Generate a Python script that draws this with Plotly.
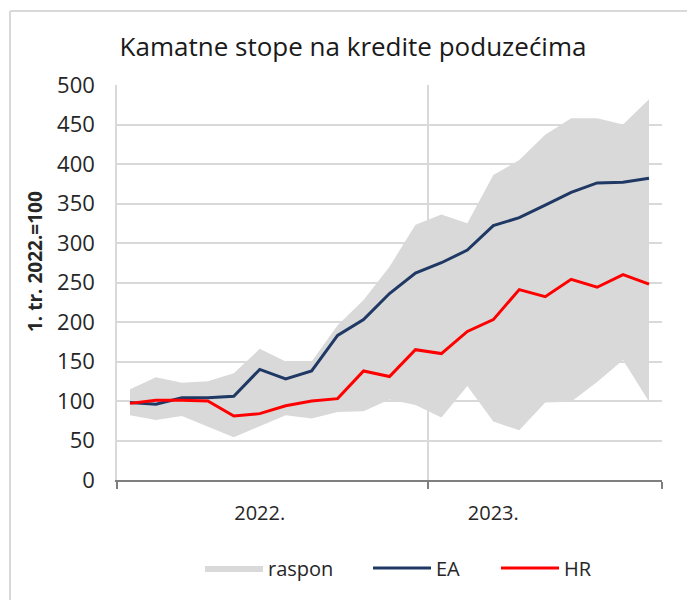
import plotly.graph_objects as go

months = ["01/2022", "02/2022", "03/2022", "04/2022", "05/2022", "06/2022",
          "07/2022", "08/2022", "09/2022", "10/2022", "11/2022", "12/2022",
          "01/2023", "02/2023", "03/2023", "04/2023", "05/2023", "06/2023",
          "07/2023", "08/2023", "09/2023"]
ea = [98, 96, 104, 104, 106, 140, 128, 138, 183, 203, 236, 262, 275, 291, 322, 332, 348, 364, 376, 377, 382]
hr = [97, 101, 101, 100, 81, 84, 94, 100, 103, 138, 131, 165, 160, 188, 203, 241, 232, 254, 244, 260, 248]
upper = [115, 130, 123, 125, 135, 166, 150, 150, 196, 228, 270, 323, 336, 325, 386, 405, 437, 458, 458, 450, 482]
lower = [82, 76, 81, 67, 54, 68, 82, 78, 86, 87, 102, 95, 79, 119, 74, 63, 98, 99, 124, 152, 99]
year_labels = ["2022.", "2023."]
year_label_pos = [5, 14]
year_bounds = [-0.5, 11.5, 20.5]

x = list(range(len(months)))
FONT = "Open Sans"

L, R, T, B = 117, 25, 85, 120
W, H = 687, 600
pw, ph = W - L - R, H - T - B


def px_x(p):
    return (p - L) / pw


def px_y(p):
    return (H - B - p) / ph


fig = go.Figure()
fig.add_trace(go.Scatter(x=x, y=lower, mode="lines", line=dict(width=0, color="#d9d9d9"),
                         showlegend=False, hoverinfo="skip", customdata=months))
fig.add_trace(go.Scatter(x=x, y=upper, mode="lines", line=dict(width=0, color="#d9d9d9"),
                         fill="tonexty", fillcolor="#d9d9d9", name="raspon", legend="legend",
                         customdata=months))
fig.add_trace(go.Scatter(x=x, y=ea, mode="lines", line=dict(width=3, color="#1f3864"), name="EA",
                         legend="legend2", customdata=months))
fig.add_trace(go.Scatter(x=x, y=hr, mode="lines", line=dict(width=3, color="#ff0000"), name="HR",
                         legend="legend3", customdata=months))

leg_common = dict(orientation="h", xanchor="left", y=px_y(568), yanchor="middle",
                  font=dict(size=20, color="#262626"), itemwidth=58,
                  bgcolor="rgba(0,0,0,0)")

fig.update_layout(
    width=W, height=H,
    margin=dict(l=L, r=R, t=T, b=B),
    paper_bgcolor="white", plot_bgcolor="white",
    font=dict(family=FONT, size=20, color="#262626"),
    title=dict(text="Kamatne stope na kredite poduzećima", font=dict(size=26, color="#1a1a1a"),
               x=353 / W, xanchor="center", y=1 - 47 / H, yanchor="middle",
               xref="container", yref="container"),
    showlegend=True,
    legend=dict(x=px_x(200), **leg_common),
    legend2=dict(x=px_x(368), **leg_common),
    legend3=dict(x=px_x(496), **leg_common),
    xaxis=dict(range=[-0.5, 20.5], tickmode="array", tickvals=year_label_pos, ticktext=year_labels,
               ticks="", showgrid=False, zeroline=False,
               showline=True, linecolor="#7f7f7f", linewidth=2,
               tickfont=dict(size=20), ticklabelstandoff=14,
               minor=dict(tickmode="array", tickvals=year_bounds, ticks="outside", ticklen=7,
                          tickcolor="#7f7f7f", tickwidth=2, showgrid=True,
                          gridcolor="#d9d9d9", gridwidth=1.5)),
    yaxis=dict(range=[0, 500], dtick=50, tick0=0, showgrid=True, gridcolor="#d9d9d9", gridwidth=1.5,
               zeroline=False, showline=True, linecolor="#d9d9d9", linewidth=1.5,
               ticks="", ticklabelstandoff=16, tickfont=dict(size=22)),
    hovermode=False,
)

fig.add_annotation(text="<b>1. tr. 2022.=100</b>", textangle=-90, xref="paper", yref="paper",
                   x=px_x(35), y=px_y(262), showarrow=False,
                   font=dict(size=19, color="#262626"), xanchor="center", yanchor="middle")

# outer frame (left and top edges)
fig.add_shape(type="line", xref="paper", yref="paper",
              x0=px_x(10), x1=px_x(W), y0=px_y(11), y1=px_y(11),
              line=dict(color="#d9d9d9", width=2))
fig.add_shape(type="line", xref="paper", yref="paper",
              x0=px_x(10), x1=px_x(10), y0=px_y(11), y1=px_y(H),
              line=dict(color="#d9d9d9", width=2))

fig.write_html("out.html", post_script="document.body.style.margin='0';",
               config={"displayModeBar": False})
